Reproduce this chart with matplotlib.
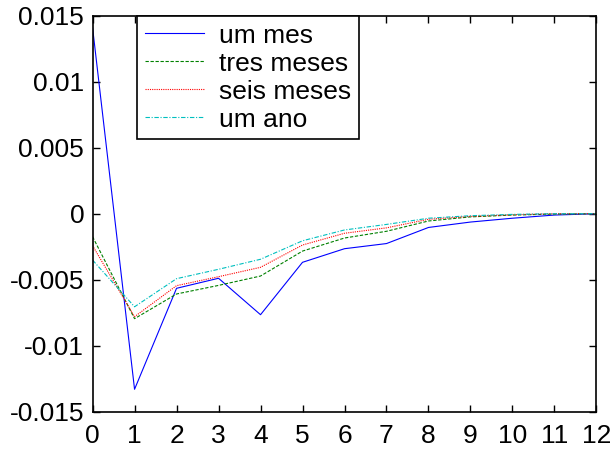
import matplotlib
matplotlib.use("Agg")
import matplotlib.pyplot as plt

plt.rcParams['font.family'] = ['Liberation Sans', 'DejaVu Sans']

# horizonte (meses)
horizonte = list(range(13))

um_mes = [0.0141, -0.0133, -0.00565, -0.00489, -0.00765, -0.00368, -0.00265,
          -0.00226, -0.00104, -0.00063, -0.00034, -0.0001, 0.0]
tres_meses = [-0.00174, -0.00795, -0.00608, -0.00543, -0.00472, -0.00283, -0.00184,
              -0.00133, -0.00055, -0.00024, -0.0001, -0.00003, 0.0]
seis_meses = [-0.00242, -0.0078, -0.00545, -0.00477, -0.00406, -0.00237, -0.00148,
              -0.00107, -0.00042, -0.0002, -0.00008, 0.0, 0.0]
um_ano = [-0.00351, -0.00705, -0.00492, -0.00421, -0.00345, -0.00205, -0.00123,
          -0.00081, -0.00034, -0.00015, -0.00005, 0.0, 0.0]

yticks = [0.015, 0.01, 0.005, 0, -0.005, -0.01, -0.015]
ytick_labels = ['0.015', '0.01', '0.005', '0', '-0.005', '-0.01', '-0.015']

fig = plt.figure(figsize=(6.13, 4.51), dpi=100)
ax = fig.add_axes([0.151, 0.0871, 0.822, 0.878])

ax.plot(horizonte, um_mes, color='b', linestyle='-', linewidth=0.8, label='um mes')
ax.plot(horizonte, tres_meses, color='g', linestyle=(0, (3, 1.5)), linewidth=0.8, label='tres meses')
ax.plot(horizonte, seis_meses, color='r', linestyle=(0, (1, 1)), linewidth=0.8, label='seis meses')
ax.plot(horizonte, um_ano, color='c', linestyle=(0, (4, 1.5, 1, 1.5)), linewidth=0.8, label='um ano')

ax.set_xlim(0, 12)
ax.set_ylim(-0.015, 0.015)
ax.set_xticks(horizonte)
ax.set_yticks(yticks)
ax.set_yticklabels(ytick_labels)
ax.tick_params(direction='in', top=True, right=True, length=5, width=1,
               labelsize=19)
ax.tick_params(axis='y', pad=6)
ax.tick_params(axis='x', pad=9)
for s in ax.spines.values():
    s.set_linewidth(1.2)

leg = ax.legend(loc='upper left', bbox_to_anchor=(0.088, 1.0), borderaxespad=0,
                fontsize=19, fancybox=False, edgecolor='black', framealpha=1,
                labelspacing=0.15, handlelength=2.25, handletextpad=0.57,
                borderpad=0.3)
leg.get_frame().set_linewidth(1.2)

fig.savefig('out.png', dpi=100)
